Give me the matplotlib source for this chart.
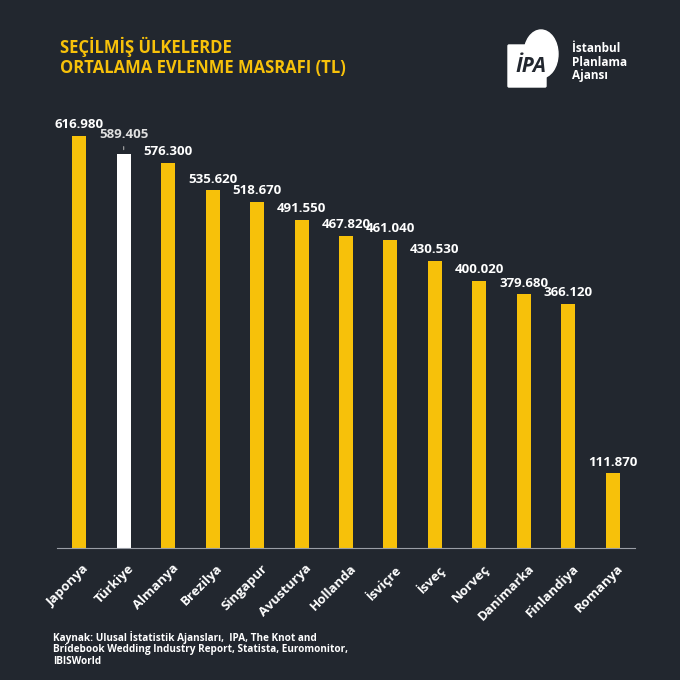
import matplotlib
matplotlib.use("Agg")
from matplotlib import pyplot as plt
from matplotlib.patches import Ellipse, FancyBboxPatch

# data
countries = ['Japonya', 'Türkiye', 'Almanya', 'Brezilya', 'Singapur', 'Avusturya', 'Hollanda',
             'İsviçre', 'İsveç', 'Norveç', 'Danimarka', 'Finlandiya', 'Romanya']
costs = [616980, 589405, 576300, 535620, 518670, 491550, 467820, 461040, 430530, 400020, 379680, 366120, 111870]
labels = ['616.980', '589.405', '576.300', '535.620', '518.670', '491.550', '467.820',
          '461.040', '430.530', '400.020', '379.680', '366.120', '111.870']
highlight = 'Türkiye'

bg = '#22272f'
yellow = '#f7c10a'
font = ['Open Sans', 'DejaVu Sans']
plt.rcParams['font.family'] = font

fig = plt.figure(figsize=(6.8, 6.8), dpi=100, facecolor=bg)
ax = fig.add_axes([57/680, 1-548/680, 578/680, 438/680])
ax.set_facecolor(bg)

x = list(range(len(countries)))
colors = ['white' if c == highlight else yellow for c in countries]
ax.bar(x, costs, width=0.315, color=colors, zorder=2)

ax.set_xlim(-0.5, len(countries) - 0.5)
ax.set_ylim(0, 616980 * 438 / 412)

for i, (v, lab) in enumerate(zip(costs, labels)):
    if countries[i] == highlight:
        ax.annotate(lab, xy=(i, v + 3000), xytext=(i, v + 20000), ha='center', va='bottom',
                    color='#e0e0e0', fontsize=9.5, fontweight='bold',
                    arrowprops=dict(arrowstyle='-', color='#aaaaaa', lw=0.8))
    else:
        ax.text(i, v + 7000, lab, ha='center', va='bottom', color='white',
                fontsize=9.5, fontweight='bold')

for s in ['top', 'right', 'left']:
    ax.spines[s].set_visible(False)
ax.spines['bottom'].set_color('#9a9ea6')
ax.spines['bottom'].set_linewidth(0.8)
ax.set_yticks([])
ax.set_xticks([i + 0.08 for i in x])
ax.set_xticklabels(countries, rotation=45, ha='right', va='top', rotation_mode='anchor',
                   color='white', fontsize=9.5, fontweight='bold')
ax.tick_params(axis='x', length=0, pad=10)

# title
fig.text(60/680, 1-47/680, 'SEÇİLMİŞ ÜLKELERDE', color=yellow, fontsize=12,
         fontweight='bold', va='center', ha='left')
fig.text(60/680, 1-68/680, 'ORTALAMA EVLENME MASRAFI (TL)', color=yellow, fontsize=12,
         fontweight='bold', va='center', ha='left')

# logo
lax = fig.add_axes([505/680, 1-92/680, 60/680, 64/680])
lax.set_xlim(0, 60)
lax.set_ylim(0, 64)
lax.axis('off')
lax.add_patch(Ellipse((36, 38), 34, 48, color='white'))
lax.add_patch(FancyBboxPatch((4, 6), 36, 40, boxstyle='round,pad=1', color='white'))
lax.text(26, 26, 'İPA', color=bg, fontsize=15, fontweight='bold', ha='center', va='center',
         fontstyle='italic')
for j, w in enumerate(['İstanbul', 'Planlama', 'Ajansı']):
    fig.text(572/680, 1-(49 + j*13)/680, w, color='white', fontsize=8.5, fontweight='bold',
             va='center', ha='left')

# source
src = ['Kaynak: Ulusal İstatistik Ajansları,  IPA, The Knot and',
       'Bridebook Wedding Industry Report, Statista, Euromonitor,',
       'IBISWorld']
for j, line in enumerate(src):
    fig.text(53/680, 1-(637 + j*12.5)/680, line, color='white', fontsize=7.2,
             fontweight='bold', va='center', ha='left')

fig.savefig('out.png', dpi=100, facecolor=bg)
